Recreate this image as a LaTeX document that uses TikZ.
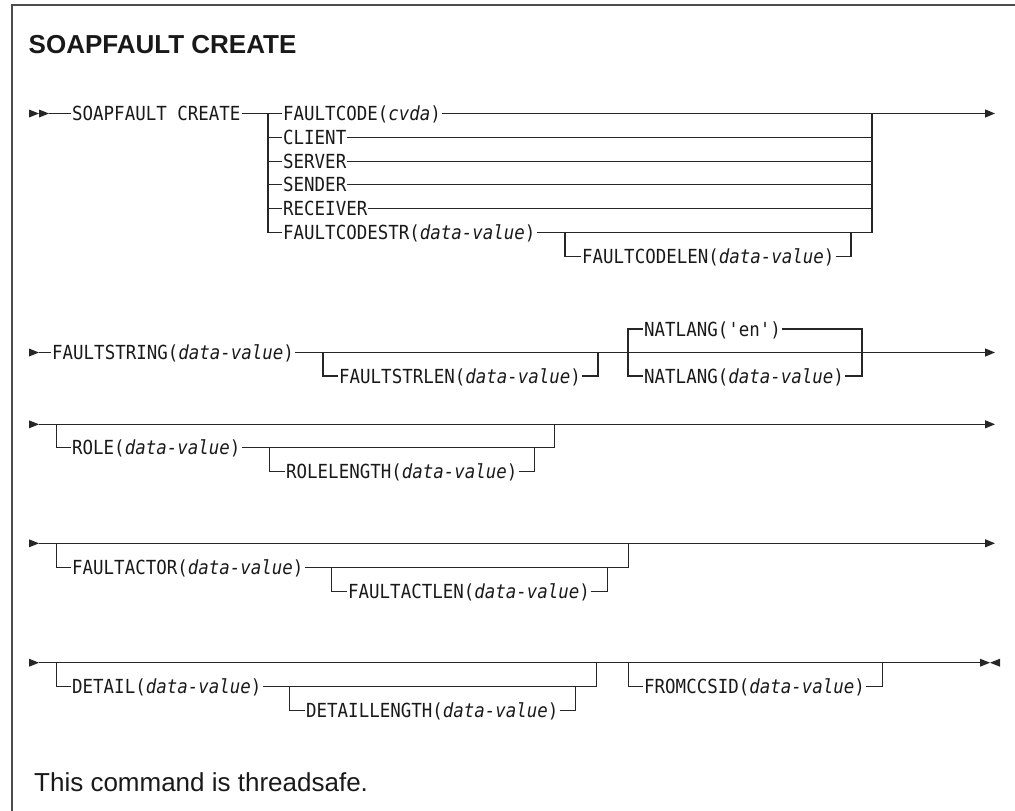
\documentclass[tikz,border=0pt]{standalone}
\usepackage{fontspec}
\usetikzlibrary{arrows.meta}
\newfontfamily\railfont[FakeStretch=0.9]{DejaVu Sans Mono}
\newfontfamily\plainfont{Liberation Sans}
% filled head, tip at #1
\newcommand\railtip[1]{\fill[black!85] (#1) -- ++(-10,-4) -- ++(0,8) -- cycle;}
\begin{document}
\begin{tikzpicture}[x=1pt, y=-1pt,
	rail/.style={font=\railfont\fontsize{19.4}{22}\selectfont, text=black!90, inner xsep=1pt, inner ysep=0pt, text height=14pt, text depth=0pt, anchor=west},
	line/.style={draw=black!85, line width=1.1pt},
	go/.style={line, -{Triangle[length=10pt, width=8pt]}}]
	\useasboundingbox (0,0) rectangle (1015,811);
	\draw[draw=black!70, line width=1.5pt] (1015,5) -- (12,5) -- (12,811);
	\node[anchor=base west, inner sep=0pt, text=black!90, font=\plainfont\bfseries\fontsize{26}{30}\selectfont] (title) at (28.5,53) {SOAPFAULT CREATE};

	% first line
	\coordinate (s1) at (49,113.5);
	\railtip{39,113.5}
	\railtip{s1}
	\node[rail] (soap) at (71,113.5) {SOAPFAULT CREATE};
	\node[rail] (fcode) at (282,113.5) {FAULTCODE(\textit{cvda})};
	\node[rail] (client) at (282,137.3) {CLIENT};
	\node[rail] (server) at (282,161.1) {SERVER};
	\node[rail] (sender) at (282,184.9) {SENDER};
	\node[rail] (recv) at (282,208.7) {RECEIVER};
	\node[rail] (fstr) at (282,232.5) {FAULTCODESTR(\textit{data-value})};
	\node[rail] (fclen) at (581,256.5) {FAULTCODELEN(\textit{data-value})};
	\coordinate (b1) at (268,113.5);
	\coordinate (r1) at (872,113.5);
	\coordinate (e1) at (995,113.5);
	\coordinate (b1l) at (565,232.5);
	\coordinate (r1l) at (851,232.5);
	\draw[line] (s1) -- (soap.west);
	\draw[line] (soap.east) -- (fcode.west);
	\draw[go] (fcode.east) -- (e1);
	\draw[line] (b1) |- (fstr.west);
	\draw[line] (fstr.east) -| (r1);
	\foreach \o in {client,server,sender,recv} {
		\draw[line] (b1 |- \o.west) -- (\o.west);
		\draw[line] (\o.east) -- (r1 |- \o.east);
	}
	\draw[line] (b1l) |- (fclen.west);
	\draw[line] (fclen.east) -| (r1l);

	% second line
	\coordinate (s2) at (39,352.5);
	\coordinate (e2) at (995,352.5);
	\coordinate (b2) at (323,352.5);
	\coordinate (r2) at (598,352.5);
	\coordinate (n1) at (628,352.5);
	\coordinate (n2) at (862,352.5);
	\railtip{s2}
	\node[rail] (fstring) at (51,352.5) {FAULTSTRING(\textit{data-value})};
	\node[rail] (fslen) at (338,376) {FAULTSTRLEN(\textit{data-value})};
	\node[rail] (natdef) at (643,329) {NATLANG('en')};
	\node[rail] (natval) at (643,376) {NATLANG(\textit{data-value})};
	\draw[line] (s2) -- (fstring.west);
	\draw[go] (fstring.east) -- (e2);
	\draw[line] (b2) |- (fslen.west);
	\draw[line] (fslen.east) -| (r2);
	\draw[line] (natval.west) -| (n1) |- (natdef.west);
	\draw[line] (natdef.east) -| (n2) |- (natval.east);

	% third line
	\coordinate (s3) at (39,424.3);
	\coordinate (e3) at (995,424.3);
	\coordinate (b3) at (56.7,424.3);
	\coordinate (r3) at (554.5,424.3);
	\coordinate (b3l) at (269.7,447.7);
	\coordinate (r3l) at (534.5,447.7);
	\railtip{s3}
	\node[rail] (role) at (71,447.7) {ROLE(\textit{data-value})};
	\node[rail] (rolelen) at (285,471.4) {ROLELENGTH(\textit{data-value})};
	\draw[go] (s3) -- (e3);
	\draw[line] (b3) |- (role.west);
	\draw[line] (role.east) -| (r3);
	\draw[line] (b3l) |- (rolelen.west);
	\draw[line] (rolelen.east) -| (r3l);

	% fourth line
	\coordinate (s4) at (39,543.3);
	\coordinate (e4) at (995,543.3);
	\coordinate (b4) at (56.7,543.3);
	\coordinate (r4) at (628.5,543.3);
	\coordinate (b4l) at (331.7,567.5);
	\coordinate (r4l) at (607.5,567.5);
	\railtip{s4}
	\node[rail] (actor) at (71,567.5) {FAULTACTOR(\textit{data-value})};
	\node[rail] (actlen) at (347,591.7) {FAULTACTLEN(\textit{data-value})};
	\draw[go] (s4) -- (e4);
	\draw[line] (b4) |- (actor.west);
	\draw[line] (actor.east) -| (r4);
	\draw[line] (b4l) |- (actlen.west);
	\draw[line] (actlen.east) -| (r4l);

	% last line
	\coordinate (s5) at (39,662.7);
	\coordinate (e5) at (990,662.7);
	\coordinate (b5) at (56.7,662.7);
	\coordinate (r5) at (596.7,662.7);
	\coordinate (b5l) at (289.5,686.5);
	\coordinate (r5l) at (575.5,686.5);
	\coordinate (c5) at (628.3,662.7);
	\coordinate (d5) at (882.7,662.7);
	\railtip{s5}
	\node[rail] (detail) at (71,686.5) {DETAIL(\textit{data-value})};
	\node[rail] (detlen) at (305,710.3) {DETAILLENGTH(\textit{data-value})};
	\node[rail] (ccsid) at (643,686.5) {FROMCCSID(\textit{data-value})};
	\draw[line] (s5) -- (980,662.7);
	\railtip{e5}
	\fill[black!85] (e5) -- ++(10,-4) -- ++(0,8) -- cycle;
	\draw[line] (b5) |- (detail.west);
	\draw[line] (detail.east) -| (r5);
	\draw[line] (b5l) |- (detlen.west);
	\draw[line] (detlen.east) -| (r5l);
	\draw[line] (c5) |- (ccsid.west);
	\draw[line] (ccsid.east) -| (d5);

	\node[anchor=base west, inner sep=0pt, text=black!90, font=\plainfont\fontsize{26}{30}\selectfont] (note) at (34,791) {This command is threadsafe.};
\end{tikzpicture}
\end{document}
